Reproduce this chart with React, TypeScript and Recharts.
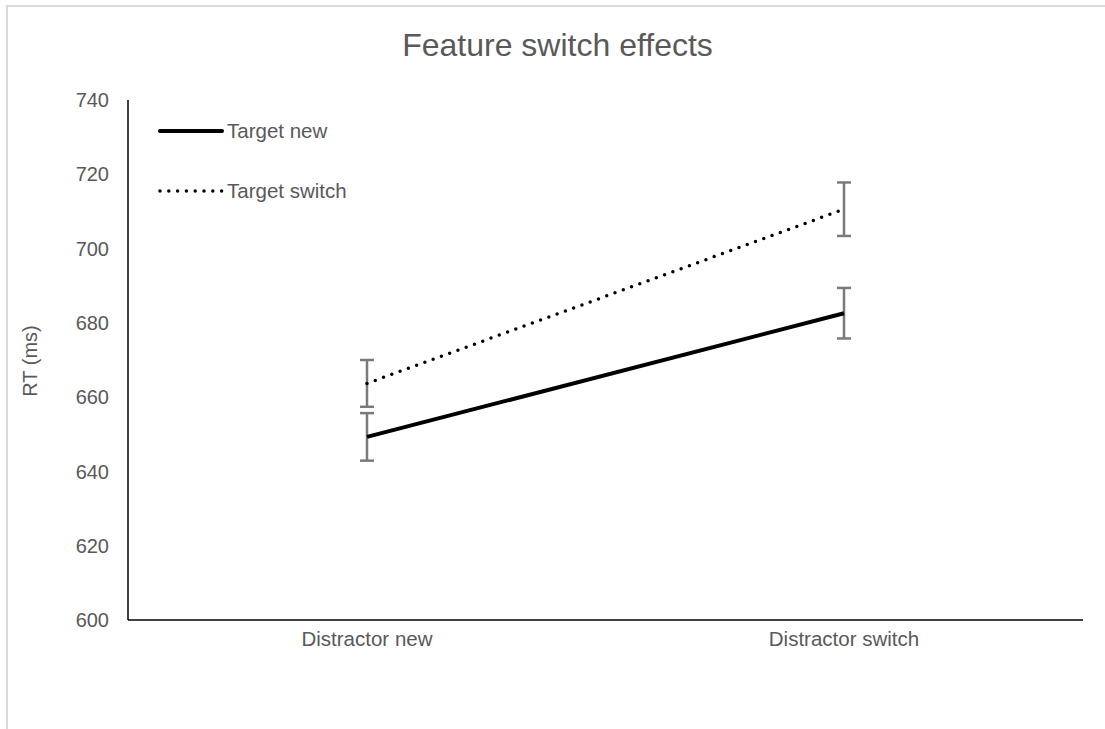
import { ErrorBar, Line, LineChart, XAxis, YAxis } from 'recharts'

const categories = ['Distractor new', 'Distractor switch']
const targetNew = [649.3, 682.6]
const targetNewErr = [6.4, 6.8]
const targetSwitch = [663.7, 710.6]
const targetSwitchErr = [6.3, 7.2]
const yTicks = [600, 620, 640, 660, 680, 700, 720, 740]

const data = categories.map((c, i) => ({
  name: c,
  tn: targetNew[i],
  tnErr: targetNewErr[i],
  ts: targetSwitch[i],
  tsErr: targetSwitchErr[i],
}))

const GREY = '#595959'
const FONT = '"Liberation Sans", Arial, sans-serif'

function LegendBox() {
  const row = { display: 'flex', alignItems: 'center', height: 24, color: GREY, fontSize: 20.5, fontFamily: FONT }
  return (
    <div style={{ position: 'absolute', left: 158, top: 119 }}>
      <div style={row}>
        <svg width={66} height={24}>
          <line x1={2} y1={12} x2={64} y2={12} stroke="#000" strokeWidth={4} strokeLinecap="round" />
        </svg>
        <span style={{ marginLeft: 3 }}>Target new</span>
      </div>
      <div style={{ ...row, marginTop: 36 }}>
        <svg width={66} height={24}>
          <line x1={2} y1={12} x2={64} y2={12} stroke="#000" strokeWidth={3.5}
                strokeLinecap="round" strokeDasharray="0 8.8" />
        </svg>
        <span style={{ marginLeft: 3 }}>Target switch</span>
      </div>
    </div>
  )
}

export default function App() {
  return (
    <div style={{ position: 'absolute', left: 0, top: 0, width: 1105, height: 729, overflow: 'hidden', background: '#fff', fontFamily: FONT }}>
      <div style={{ position: 'absolute', left: 6, top: 5, width: 1130, height: 760, border: '2px solid #d9d9d9' }} />
      <div style={{ position: 'absolute', left: 0, top: 27, width: 1115, textAlign: 'center', fontSize: 32, color: GREY }}>
        Feature switch effects
      </div>
      <div style={{ position: 'absolute', left: 30, top: 361, transform: 'translate(-50%, -50%) rotate(-90deg)',
                    whiteSpace: 'nowrap', fontSize: 20, color: GREY }}>
        RT (ms)
      </div>
      <div style={{ position: 'absolute', left: 0, top: 0 }}>
        <LineChart width={1105} height={729} data={data} margin={{ top: 100, right: 22, bottom: 79, left: 0 }}>
          <XAxis dataKey="name" height={30} padding={{ left: 239, right: 239 }}
                 axisLine={{ stroke: '#000', strokeWidth: 1.5 }} tickLine={false} tickSize={0} tickMargin={11}
                 tick={{ fill: GREY, fontSize: 20.5, fontFamily: FONT }} />
          <YAxis width={128} domain={[600, 740]} ticks={yTicks} interval={0}
                 axisLine={{ stroke: '#000', strokeWidth: 1.5 }} tickLine={false} tickSize={0} tickMargin={19}
                 tick={{ fill: GREY, fontSize: 20, fontFamily: FONT }} />
          <Line dataKey="tn" stroke="#000" strokeWidth={4} dot={false} activeDot={false} isAnimationActive={false}>
            <ErrorBar dataKey="tnErr" direction="y" width={7} stroke="#7a7a7a" strokeWidth={2.5} isAnimationActive={false} />
          </Line>
          <Line dataKey="ts" stroke="#000" strokeWidth={3.5} strokeDasharray="0 8.8" strokeLinecap="round"
                dot={false} activeDot={false} isAnimationActive={false}>
            <ErrorBar dataKey="tsErr" direction="y" width={7} stroke="#7a7a7a" strokeWidth={2.5} isAnimationActive={false} />
          </Line>
        </LineChart>
      </div>
      <LegendBox />
    </div>
  )
}
